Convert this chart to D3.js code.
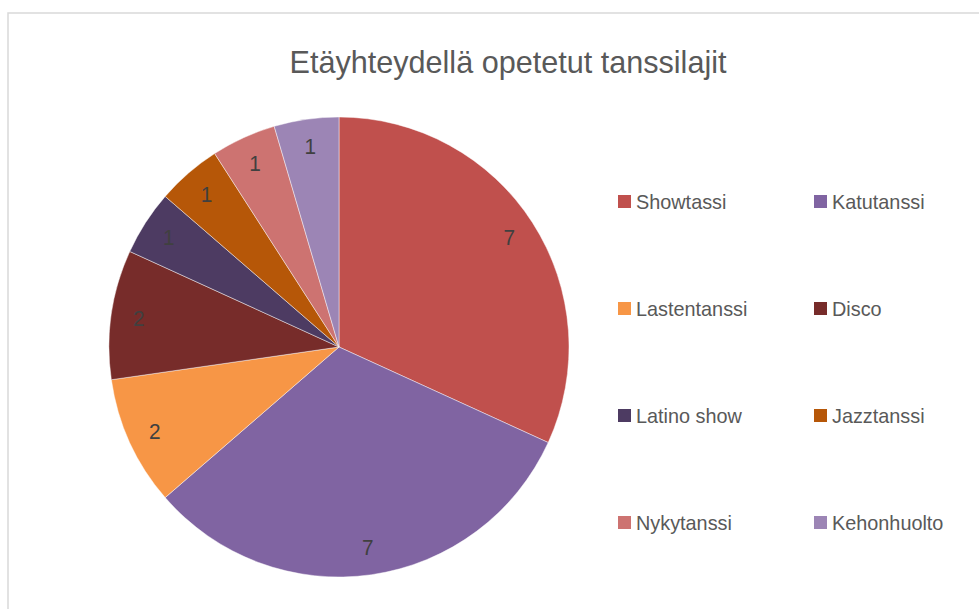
<!DOCTYPE html>
<html>
<head>
<meta charset="utf-8">
<script src="https://cdn.jsdelivr.net/npm/d3@7"></script>
<style>
  body { margin: 0; background: #fff; }
  text { font-family: "Liberation Sans", Arial, sans-serif; }
</style>
</head>
<body>
<div id="chart"></div>
<script>
const categories = ["Showtassi", "Katutanssi", "Lastentanssi", "Disco", "Latino show", "Jazztanssi", "Nykytanssi", "Kehonhuolto"];
const values = [7, 7, 2, 2, 1, 1, 1, 1];
const colors = ["#c0504d", "#8064a2", "#f79646", "#772c2a", "#4d3b62", "#b65708", "#cd7371", "#9c85b5"];
const title = "Etäyhteydellä opetetut tanssilajit";

const width = 979, height = 609;
const cx = 339, cy = 347, radius = 230;
// the original font is a narrow face; squeeze Liberation Sans a bit
const squeeze = 0.945;

const svg = d3.select("#chart").append("svg")
    .attr("width", width)
    .attr("height", height);

// chart frame (runs off the right/bottom edge)
svg.append("rect")
    .attr("x", 8).attr("y", 13)
    .attr("width", width + 20).attr("height", height + 20)
    .attr("fill", "#fff")
    .attr("stroke", "#d9d9d9")
    .attr("stroke-width", 1.5);

svg.append("text")
    .attr("transform", "translate(508,73) scale(" + 0.956 + ",1)")
    .attr("text-anchor", "middle")
    .style("font-size", "32px")
    .style("fill", "#595959")
    .text(title);

const data = categories.map(function(c, i){ return {name: c, value: values[i], color: colors[i]}; });

const pie = d3.pie().sort(null).value(function(d){ return d.value; });
const arc = d3.arc().innerRadius(0).outerRadius(radius);
const labelArc = d3.arc().innerRadius(radius * 0.88).outerRadius(radius * 0.88);

const g = svg.append("g").attr("transform", "translate(" + cx + "," + cy + ")");

const slices = g.selectAll(".slice")
    .data(pie(data))
    .enter()
    .append("g")
    .attr("class", "slice");

slices.append("path")
    .attr("d", arc)
    .attr("fill", function(d){ return d.data.color; })
    .attr("stroke", "#ffffff")
    .attr("stroke-opacity", 0.6)
    .attr("stroke-width", 0.75);

slices.append("text")
    .attr("transform", function(d){ return "translate(" + labelArc.centroid(d) + ") scale(" + squeeze + ",1)"; })
    .attr("text-anchor", "middle")
    .attr("dy", "0.35em")
    .style("font-size", "22px")
    .style("fill", "#404040")
    .text(function(d){ return d.data.value; });

// legend, two columns
const legend = svg.selectAll(".legend")
    .data(data)
    .enter()
    .append("g")
    .attr("class", "legend")
    .attr("transform", function(d, i){
        const col = i % 2, row = Math.floor(i / 2);
        return "translate(" + (618 + col * 196) + "," + (209 + row * 107) + ")";
    });

legend.append("rect")
    .attr("x", 0).attr("y", -14)
    .attr("width", 13).attr("height", 13)
    .attr("fill", function(d){ return d.color; });

legend.append("text")
    .attr("transform", "translate(18,0) scale(" + squeeze + ",1)")
    .style("font-size", "21px")
    .style("fill", "#595959")
    .text(function(d){ return d.name; });
</script>
</body>
</html>
